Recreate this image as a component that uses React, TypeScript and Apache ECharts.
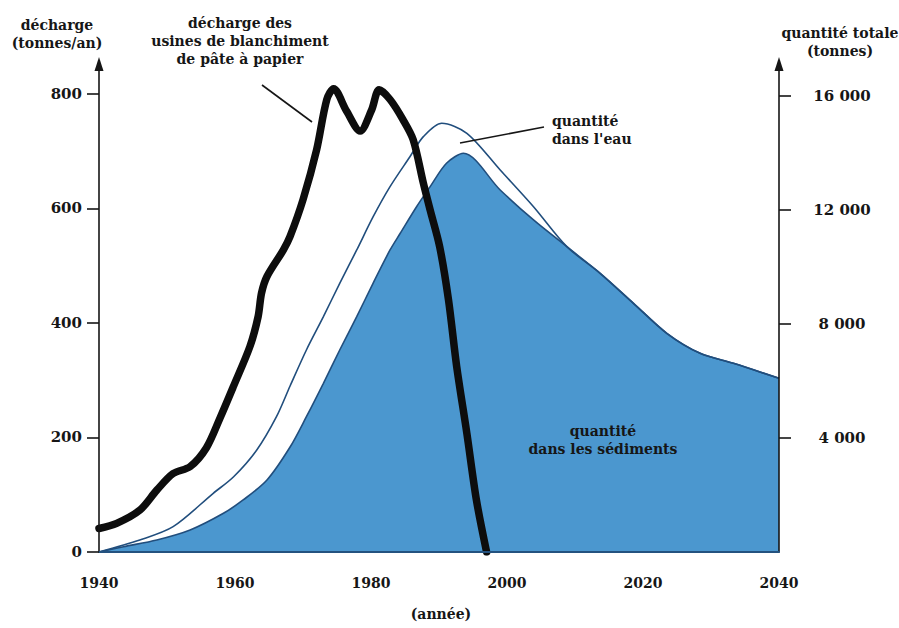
import React, { useEffect, useRef } from "react";
import * as echarts from "echarts";

// Discharge from pulp-bleaching mills (tonnes / year) — left axis
const dischargeYears = [1940, 1942.6, 1946.0, 1948.5, 1950.9, 1953.4, 1955.8, 1957.8, 1959.8, 1962.2, 1963.4, 1963.9, 1964.7, 1967.1, 1968.1, 1970.0, 1972.0, 1973.5, 1974.5, 1976.4, 1978.4, 1980.1, 1981.2, 1982.8, 1984.7, 1986.2, 1987.7, 1988.7, 1990.1, 1991.4, 1992.6, 1994.1, 1995.5, 1997.0];
const dischargeValues = [41, 50, 73, 108, 137, 149, 182, 234, 290, 359, 411, 452, 481, 527, 551, 615, 702, 790, 809, 770, 735, 772, 807, 790, 755, 720, 644, 597, 533, 440, 324, 207, 91, 0];

// Total quantity (water + sediments), tonnes — right axis
const totalYears = [1940, 1946.0, 1950.9, 1956.8, 1959.8, 1963.2, 1966.1, 1968.1, 1970.5, 1973.0, 1975.4, 1977.9, 1980.3, 1982.8, 1985.7, 1987.7, 1990.4, 1994.1, 1999.0, 2003.9, 2008.8, 2013.7, 2018.6, 2023.5, 2028.4, 2033.3, 2040];
const totalValues = [0, 421, 888, 2060, 2642, 3579, 4748, 5825, 7088, 8257, 9429, 10597, 11755, 12819, 13860, 14573, 15043, 14692, 13404, 12116, 10713, 9780, 8727, 7674, 6972, 6622, 6095];

// Quantity in sediments, tonnes — right axis
const sedimentYears = [1940, 1943.6, 1948.5, 1953.4, 1958.3, 1961.2, 1964.7, 1968.1, 1970.5, 1973.0, 1975.4, 1977.9, 1980.3, 1982.8, 1984.3, 1986.7, 1988.7, 1991.1, 1993.6, 1999.0, 2003.9, 2008.8, 2013.7, 2018.6, 2023.5, 2028.4, 2033.3, 2040];
const sedimentValues = [0, 186, 421, 772, 1358, 1825, 2526, 3684, 4748, 5920, 7088, 8257, 9429, 10597, 11183, 12116, 12819, 13639, 13990, 12703, 11650, 10713, 9780, 8727, 7674, 6972, 6622, 6095];

// Tick labels
const leftTicks = [0, 200, 400, 600, 800];
const rightTicks = [4000, 8000, 12000, 16000];
const yearTicks = [1940, 1960, 1980, 2000, 2020, 2040];

const zip = (xs: number[], ys: number[]) => xs.map((x, i) => [x, ys[i]]);
const fmtThousands = (v: number) => String(v).replace(/\B(?=(\d{3})+(?!\d))/g, " ");

const FONT = "'DejaVu Serif', serif";
const INK = "#161616";
const BLUE = "#4b97cf";
const NAVY = "#214e7d";

export default function App() {
  const ref = useRef<HTMLDivElement>(null);

  useEffect(() => {
    if (!ref.current) return;
    const chart = echarts.init(ref.current, undefined, { renderer: "svg" });

    const label = (text: string, x: number, y: number, align = "center") => ({
      type: "text",
      z: 100,
      style: {
        text,
        x,
        y,
        fill: INK,
        font: `bold 14px ${FONT}`,
        align,
        verticalAlign: "middle",
        lineHeight: 18,
      },
    });

    chart.setOption({
      animation: false,
      backgroundColor: "#ffffff",
      grid: { left: 99, right: 120, top: 64, bottom: 76 },
      xAxis: {
        type: "value",
        min: 1940,
        max: 2040,
        interval: 20,
        z: 10,
        axisLine: { show: true, lineStyle: { color: "#24527f", width: 2 } },
        axisTick: { show: false },
        splitLine: { show: false },
        axisLabel: {
          margin: 24,
          color: INK,
          fontFamily: FONT,
          fontWeight: "bold",
          fontSize: 14,
          customValues: yearTicks,
          formatter: (v: number) => String(v),
        },
      },
      yAxis: [
        {
          type: "value",
          position: "left",
          min: 0,
          max: 852,
          z: 10,
          splitLine: { show: false },
          axisLine: {
            show: true,
            symbol: ["none", "triangle"],
            symbolSize: [9, 14],
            lineStyle: { color: INK, width: 1.6 },
          },
          axisTick: { show: true, inside: false, length: 12, customValues: leftTicks, lineStyle: { color: INK, width: 1.6 } },
          axisLabel: {
            margin: 17,
            color: INK,
            fontFamily: FONT,
            fontWeight: "bold",
            fontSize: 15,
            customValues: leftTicks,
            formatter: (v: number) => String(v),
          },
        },
        {
          type: "value",
          position: "right",
          min: 0,
          max: 17123,
          z: 10,
          splitLine: { show: false },
          axisLine: {
            show: true,
            symbol: ["none", "triangle"],
            symbolSize: [9, 14],
            lineStyle: { color: INK, width: 1.6 },
          },
          axisTick: { show: true, inside: false, length: 12, customValues: rightTicks, lineStyle: { color: INK, width: 1.6 } },
          axisLabel: {
            margin: 63,
            align: "center",
            color: INK,
            fontFamily: FONT,
            fontWeight: "bold",
            fontSize: 15,
            customValues: rightTicks,
            formatter: (v: number) => fmtThousands(v),
          },
        },
      ],
      series: [
        {
          name: "quantité dans les sédiments",
          type: "line",
          yAxisIndex: 1,
          data: zip(sedimentYears, sedimentValues),
          smooth: 0.3,
          symbol: "none",
          z: 2,
          lineStyle: { color: NAVY, width: 1.6 },
          areaStyle: { color: BLUE, opacity: 1 },
        },
        {
          name: "quantité totale",
          type: "line",
          yAxisIndex: 1,
          data: zip(totalYears, totalValues),
          smooth: 0.3,
          symbol: "none",
          z: 3,
          lineStyle: { color: NAVY, width: 1.6 },
        },
        {
          name: "décharge",
          type: "line",
          yAxisIndex: 0,
          data: zip(dischargeYears, dischargeValues),
          smooth: 0.3,
          symbol: "none",
          z: 5,
          lineStyle: { color: "#0d0d0d", width: 7.5, cap: "round", join: "round" },
        },
      ],
      graphic: [
        label("décharge\n(tonnes/an)", 57, 34),
        label("décharge des\nusines de blanchiment\nde pâte à papier", 240, 41),
        label("quantité totale\n(tonnes)", 840, 42),
        label("quantité\ndans l'eau", 552, 130, "left"),
        label("quantité\ndans les sédiments", 603, 440),
        label("(année)", 441, 614),
        {
          type: "line",
          z: 100,
          shape: { x1: 262, y1: 85, x2: 312, y2: 122 },
          style: { stroke: INK, lineWidth: 1.6 },
        },
        {
          type: "line",
          z: 100,
          shape: { x1: 460, y1: 143, x2: 544, y2: 127 },
          style: { stroke: INK, lineWidth: 1.6 },
        },
      ],
    });

    return () => chart.dispose();
  }, []);

  return (
    <div
      ref={ref}
      style={{ position: "fixed", left: 0, top: 0, width: 899, height: 628, background: "#fff" }}
    />
  );
}
